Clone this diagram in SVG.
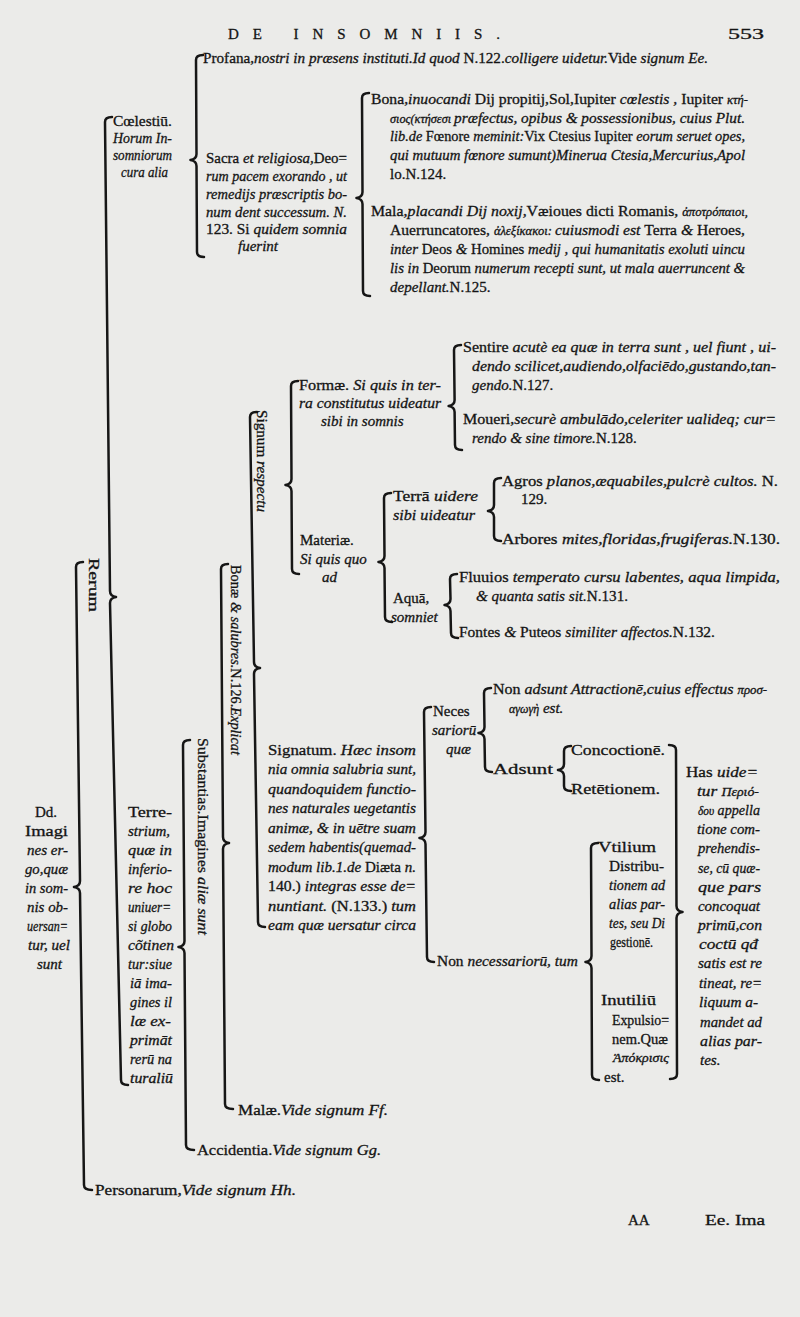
<svg xmlns="http://www.w3.org/2000/svg" width="800" height="1317" viewBox="0 0 800 1317">
<style>
.t{font-family:"Liberation Serif","DejaVu Serif",serif;font-size:15px;fill:#141414;stroke:#141414;stroke-width:0.3px}
.i{font-style:italic}
.g{font-style:italic;font-size:12px}
.b{fill:none;stroke:#161616;stroke-width:2.5;stroke-linecap:round;stroke-linejoin:round}
</style>
<rect width="800" height="1317" fill="#ebebe9"/>

<g id="connectors">
<path class="b" d="M203 55 Q196 55 196 60 L196.5 154 Q196.5 159 190.5 160 Q196.5 161 196.5 166 L197 252 Q197 257 204 257"/>
<path class="b" d="M369 93 Q362 93 362 98 L362.5 192 Q362.5 197 356.5 198 Q362.5 199 362.5 204 L363 291 Q363 296 370 296"/>
<path class="b" d="M112 117 Q105 117 105 122 L110 591 Q110 596 116 597 Q110 598 110 603 L121 1080 Q121 1085 128 1085"/>
<path class="b" d="M83 562 Q76 562 76 567 L80 881 Q80 886 74 887 Q80 888 80 893 L84 1185 Q84 1190 92 1190"/>
<path class="b" d="M190 740 Q183 740 183 745 L184.5 941 Q184.5 946 178.5 947 Q184.5 948 184.5 953 L186 1145 Q186 1150 194 1150"/>
<path class="b" d="M228 564 Q221 564 221 569 L223 837 Q223 842 229 843 Q223 844 223 849 L225 1104 Q225 1109 233 1109"/>
<path class="b" d="M257 412 Q250 412 250 417 L254 662 Q254 667 260 668 Q254 669 254 674 L258 922 Q258 927 265 927"/>
<path class="b" d="M298 381 Q291 381 291 386 L291.5 479 Q291.5 484 285.5 485 Q291.5 486 291.5 491 L292 569 Q292 574 299 574"/>
<path class="b" d="M461 345 Q454 345 454 350 L454.6 400 Q454.6 405 448.6 406 Q454.6 407 454.6 412 L455 445 Q455 450 462 450"/>
<path class="b" d="M391 493 Q384 493 384 498 L384.5 556 Q384.5 561 378.5 562 Q384.5 563 384.5 568 L385 617 Q385 622 392 622"/>
<path class="b" d="M501 478 Q494 478 494 483 L494 505 Q494 510 488 511 Q494 512 494 517 L494 536 Q494 541 501 541"/>
<path class="b" d="M457 574 Q450 574 450 579 L450.5 599 Q450.5 604 444.5 605 Q450.5 606 450.5 611 L451 633 Q451 638 458 638"/>
<path class="b" d="M431 707 Q424 707 424 712 L425.5 832 Q425.5 837 419.5 838 Q425.5 839 425.5 844 L427 957 Q427 962 434 962"/>
<path class="b" d="M491 688 Q484 688 484 693 L484.5 727 Q484.5 732 478.5 733 Q484.5 734 484.5 739 L485 767 Q485 772 492 772"/>
<path class="b" d="M571 746 Q564 746 564 751 L564 764 Q564 769 558 770 Q564 771 564 776 L564 786 Q564 791 571 791"/>
<path class="b" d="M598 843 Q591 843 591 848 L591.5 956 Q591.5 961 585.5 962 Q591.5 963 591.5 968 L592 1075 Q592 1080 599 1080"/>
<path class="b" d="M669 745 Q676 745 676 750 L676.5 906 Q676.5 911 682.5 912 Q676.5 913 676.5 918 L677 1074 Q677 1079 670 1079"/>
</g>

<g id="n-header">
<text class="t" x="228" y="39" font-size="19" textLength="272" lengthAdjust="spacing">DE INSOMNIIS.</text>
<text class="t" x="728" y="39" font-size="17" textLength="36" lengthAdjust="spacingAndGlyphs">553</text>
</g>

<g id="n-profana">
<text class="t" x="203" y="63" textLength="505" lengthAdjust="spacingAndGlyphs">Profana,<tspan class="i">nostri in præsens instituti.Id quod </tspan>N.122.<tspan class="i">colligere uidetur.</tspan>Vide <tspan class="i">signum Ee.</tspan></text>
</g>

<g id="n-coelestium">
<text class="t" x="113" y="126" textLength="59" lengthAdjust="spacingAndGlyphs">Cœlestiū.</text>
<text class="t i" x="113" y="143" font-size="14" textLength="59" lengthAdjust="spacingAndGlyphs">Horum In-</text>
<text class="t i" x="113" y="160" font-size="14" textLength="59" lengthAdjust="spacingAndGlyphs">somniorum</text>
<text class="t i" x="121" y="177" font-size="14" textLength="47" lengthAdjust="spacingAndGlyphs">cura alia</text>
</g>

<g id="n-sacra">
<text class="t" x="206" y="163" font-size="14" textLength="141" lengthAdjust="spacingAndGlyphs">Sacra<tspan class="i"> et religiosa,</tspan>Deo=</text>
<text class="t i" x="206" y="181" font-size="14" textLength="141" lengthAdjust="spacingAndGlyphs">rum pacem exorando , ut</text>
<text class="t i" x="206" y="199" font-size="14" textLength="141" lengthAdjust="spacingAndGlyphs">remedijs præscriptis bo-</text>
<text class="t i" x="206" y="217" font-size="14" textLength="141" lengthAdjust="spacingAndGlyphs">num dent successum. N.</text>
<text class="t" x="206" y="234" font-size="14" textLength="141" lengthAdjust="spacingAndGlyphs">123. Si <tspan class="i">quidem somnia</tspan></text>
<text class="t i" x="238" y="251" font-size="14">fuerint</text>
</g>

<g id="n-bona">
<text class="t" x="371" y="104" textLength="377" lengthAdjust="spacingAndGlyphs">Bona,<tspan class="i">inuocandi </tspan>Dij propitij,Sol,Iupiter <tspan class="i">cœlestis , </tspan>Iupiter <tspan class="g">κτή-</tspan></text>
<text class="t i" x="390" y="123" font-size="14.5" textLength="355" lengthAdjust="spacingAndGlyphs"><tspan class="g">σιος(κτήσεσι </tspan>præfectus, opibus &amp; possessionibus, cuius Plut.</text>
<text class="t i" x="390" y="141" font-size="14.5" textLength="355" lengthAdjust="spacingAndGlyphs">lib.de <tspan font-style="normal">Fœnore </tspan>meminit:<tspan font-style="normal">Vix Ctesius Iupiter </tspan>eorum seruet opes,</text>
<text class="t i" x="390" y="160" font-size="14.5" textLength="355" lengthAdjust="spacingAndGlyphs">qui mutuum fœnore sumunt)Minerua Ctesia,Mercurius,Apol</text>
<text class="t" x="390" y="179">lo.N.124.</text>
</g>

<g id="n-mala">
<text class="t" x="371" y="216" textLength="377" lengthAdjust="spacingAndGlyphs">Mala,<tspan class="i">placandi Dij noxij,</tspan>Væioues dicti Romanis, <tspan class="g">ἀποτρόπαιοι,</tspan></text>
<text class="t" x="390" y="235" font-size="14.5" textLength="355" lengthAdjust="spacingAndGlyphs">Auerruncatores, <tspan class="g">ἀλεξίκακοι: </tspan><tspan class="i">cuiusmodi est </tspan>Terra <tspan class="i">&amp; </tspan>Heroes,</text>
<text class="t i" x="390" y="254" font-size="14.5" textLength="355" lengthAdjust="spacingAndGlyphs">inter <tspan font-style="normal">Deos </tspan>&amp; <tspan font-style="normal">Homines </tspan>medij , qui humanitatis exoluti uincu</text>
<text class="t i" x="390" y="273" font-size="14.5" textLength="355" lengthAdjust="spacingAndGlyphs">lis in <tspan font-style="normal">Deorum </tspan>numerum recepti sunt, ut mala auerruncent &amp;</text>
<text class="t" x="390" y="292"><tspan class="i">depellant.</tspan>N.125.</text>
</g>

<g id="n-imagines">
<text class="t" x="35" y="817">Dd.</text>
<text class="t" x="25" y="836" textLength="43" lengthAdjust="spacingAndGlyphs">Imagi</text>
<text class="t i" x="27" y="855" textLength="41" lengthAdjust="spacingAndGlyphs">nes er-</text>
<text class="t i" x="25" y="874" textLength="43" lengthAdjust="spacingAndGlyphs">go,quæ</text>
<text class="t i" x="25" y="893" textLength="43" lengthAdjust="spacingAndGlyphs">in som-</text>
<text class="t i" x="27" y="912" textLength="41" lengthAdjust="spacingAndGlyphs">nis ob-</text>
<text class="t i" x="27" y="931" textLength="41" lengthAdjust="spacingAndGlyphs">uersan=</text>
<text class="t i" x="28" y="950" textLength="42" lengthAdjust="spacingAndGlyphs">tur, uel</text>
<text class="t i" x="37" y="969">sunt</text>
</g>

<g id="n-rerum">
<text class="t" transform="translate(89,558) rotate(90)" font-size="15.5" textLength="54" lengthAdjust="spacingAndGlyphs">Rerum</text>
</g>

<g id="n-terrestrium">
<text class="t" x="128" y="817" textLength="44" lengthAdjust="spacingAndGlyphs">Terre-</text>
<text class="t i" x="128" y="836" textLength="42" lengthAdjust="spacingAndGlyphs">strium,</text>
<text class="t i" x="128" y="855" textLength="44" lengthAdjust="spacingAndGlyphs">quæ in</text>
<text class="t i" x="128" y="874" textLength="44" lengthAdjust="spacingAndGlyphs">inferio-</text>
<text class="t i" x="128" y="893" textLength="44" lengthAdjust="spacingAndGlyphs">re hoc</text>
<text class="t i" x="128" y="912" textLength="43" lengthAdjust="spacingAndGlyphs">uniuer=</text>
<text class="t i" x="128" y="931" textLength="44" lengthAdjust="spacingAndGlyphs">si globo</text>
<text class="t i" x="128" y="950" textLength="46" lengthAdjust="spacingAndGlyphs">cõtinen</text>
<text class="t i" x="128" y="969" textLength="44" lengthAdjust="spacingAndGlyphs">tur:siue</text>
<text class="t i" x="130" y="988" textLength="42" lengthAdjust="spacingAndGlyphs">iā ima-</text>
<text class="t i" x="130" y="1007" textLength="42" lengthAdjust="spacingAndGlyphs">gines il</text>
<text class="t i" x="130" y="1026" textLength="41" lengthAdjust="spacingAndGlyphs">læ ex-</text>
<text class="t i" x="130" y="1045" textLength="42" lengthAdjust="spacingAndGlyphs">primāt</text>
<text class="t i" x="130" y="1064" textLength="42" lengthAdjust="spacingAndGlyphs">rerū na</text>
<text class="t i" x="130" y="1083" textLength="43" lengthAdjust="spacingAndGlyphs">turaliū</text>
</g>

<g id="n-substantias">
<text class="t" transform="translate(198,738) rotate(90)" textLength="197" lengthAdjust="spacingAndGlyphs">Substantias.Imagines <tspan class="i">aliæ sunt</tspan></text>
</g>

<g id="n-bonae">
<text class="t" transform="translate(231,565) rotate(90)" textLength="190" lengthAdjust="spacingAndGlyphs">Bonæ <tspan class="i">&amp; salubres.</tspan>N.126.<tspan class="i">Explicat</tspan></text>
</g>

<g id="n-signum">
<text class="t" transform="translate(257,410) rotate(90)" textLength="102" lengthAdjust="spacingAndGlyphs">Signum <tspan class="i">respectu</tspan></text>
</g>

<g id="n-formae">
<text class="t" x="299" y="390" textLength="142" lengthAdjust="spacingAndGlyphs">Formæ. <tspan class="i">Si quis in ter-</tspan></text>
<text class="t i" x="299" y="408" textLength="142" lengthAdjust="spacingAndGlyphs">ra constitutus uideatur</text>
<text class="t i" x="321" y="426">sibi in somnis</text>
</g>

<g id="n-sentire">
<text class="t" x="463" y="352" textLength="313" lengthAdjust="spacingAndGlyphs">Sentire <tspan class="i">acutè ea quæ in terra sunt , uel fiunt , ui-</tspan></text>
<text class="t i" x="472" y="371" textLength="304" lengthAdjust="spacingAndGlyphs">dendo scilicet,audiendo,olfaciēdo,gustando,tan-</text>
<text class="t" x="472" y="390"><tspan class="i">gendo.</tspan>N.127.</text>
</g>

<g id="n-moueri">
<text class="t" x="463" y="424" textLength="313" lengthAdjust="spacingAndGlyphs">Moueri,<tspan class="i">securè ambulādo,celeriter ualideq; cur=</tspan></text>
<text class="t" x="472" y="443"><tspan class="i">rendo &amp; sine timore.</tspan>N.128.</text>
</g>

<g id="n-materiae">
<text class="t" x="300" y="545">Materiæ.</text>
<text class="t i" x="300" y="564">Si quis quo</text>
<text class="t i" x="322" y="582">ad</text>
</g>

<g id="n-terra">
<text class="t" x="393" y="501" textLength="85" lengthAdjust="spacingAndGlyphs">Terrā <tspan class="i">uidere</tspan></text>
<text class="t i" x="393" y="520" textLength="82" lengthAdjust="spacingAndGlyphs">sibi uideatur</text>
</g>

<g id="n-agros">
<text class="t" x="502" y="486" textLength="276" lengthAdjust="spacingAndGlyphs">Agros <tspan class="i">planos,æquabiles,pulcrè cultos. </tspan>N.</text>
<text class="t" x="521" y="504">129.</text>
</g>

<g id="n-arbores">
<text class="t" x="502" y="544" textLength="278" lengthAdjust="spacingAndGlyphs">Arbores <tspan class="i">mites,floridas,frugiferas.</tspan>N.130.</text>
</g>

<g id="n-aqua">
<text class="t" x="393" y="603">Aquā,</text>
<text class="t i" x="391" y="622">somniet</text>
</g>

<g id="n-fluuios">
<text class="t" x="459" y="582" textLength="321" lengthAdjust="spacingAndGlyphs">Fluuios <tspan class="i">temperato cursu labentes, aqua limpida,</tspan></text>
<text class="t" x="476" y="601" textLength="152" lengthAdjust="spacingAndGlyphs"><tspan class="i">&amp; quanta satis sit.</tspan>N.131.</text>
</g>

<g id="n-fontes">
<text class="t" x="459" y="637" textLength="256" lengthAdjust="spacingAndGlyphs">Fontes <tspan class="i">&amp; </tspan>Puteos <tspan class="i">similiter affectos.</tspan>N.132.</text>
</g>

<g id="n-signatum">
<text class="t" x="268" y="755" textLength="148" lengthAdjust="spacingAndGlyphs">Signatum. <tspan class="i">Hæc insom</tspan></text>
<text class="t i" x="268" y="774" textLength="148" lengthAdjust="spacingAndGlyphs">nia omnia salubria sunt,</text>
<text class="t i" x="268" y="794" textLength="148" lengthAdjust="spacingAndGlyphs">quandoquidem functio-</text>
<text class="t i" x="268" y="813" textLength="148" lengthAdjust="spacingAndGlyphs">nes naturales uegetantis</text>
<text class="t i" x="268" y="833" textLength="148" lengthAdjust="spacingAndGlyphs">animæ, &amp; in uētre suam</text>
<text class="t i" x="268" y="852" textLength="148" lengthAdjust="spacingAndGlyphs">sedem habentis(quemad-</text>
<text class="t i" x="268" y="872" textLength="148" lengthAdjust="spacingAndGlyphs">modum lib.1.de <tspan font-style="normal">Diæta</tspan> n.</text>
<text class="t" x="268" y="891" textLength="148" lengthAdjust="spacingAndGlyphs">140.) <tspan class="i">integras esse de=</tspan></text>
<text class="t i" x="268" y="911" textLength="148" lengthAdjust="spacingAndGlyphs">nuntiant. <tspan font-style="normal">(N.133.)</tspan> tum</text>
<text class="t i" x="268" y="930" textLength="148" lengthAdjust="spacingAndGlyphs">eam quæ uersatur circa</text>
</g>

<g id="n-necessariorum">
<text class="t" x="433" y="716">Neces</text>
<text class="t i" x="432" y="735">sariorū</text>
<text class="t i" x="446" y="754">quæ</text>
</g>

<g id="n-nonadsunt">
<text class="t" x="493" y="694" textLength="274" lengthAdjust="spacingAndGlyphs">Non <tspan class="i">adsunt Attractionē,cuius effectus </tspan><tspan class="g">προσ-</tspan></text>
<text class="t i" x="509" y="713"><tspan class="g">αγωγὴ</tspan> est.</text>
</g>

<g id="n-adsunt">
<text class="t" x="493" y="774" textLength="60" lengthAdjust="spacingAndGlyphs">Adsunt</text>
</g>

<g id="n-concoctione">
<text class="t" x="571" y="755" textLength="94" lengthAdjust="spacingAndGlyphs">Concoctionē.</text>
</g>

<g id="n-retentionem">
<text class="t" x="571" y="794" textLength="89" lengthAdjust="spacingAndGlyphs">Retētionem.</text>
</g>

<g id="n-has">
<text class="t" x="686" y="777" textLength="72" lengthAdjust="spacingAndGlyphs">Has <tspan class="i">uide=</tspan></text>
<text class="t i" x="697" y="796" textLength="62" lengthAdjust="spacingAndGlyphs">tur <tspan class="g">Περιό-</tspan></text>
<text class="t i" x="698" y="815" textLength="62" lengthAdjust="spacingAndGlyphs"><tspan class="g">δου</tspan> appella</text>
<text class="t i" x="697" y="834" textLength="63" lengthAdjust="spacingAndGlyphs">tione com-</text>
<text class="t i" x="698" y="853" textLength="62" lengthAdjust="spacingAndGlyphs">prehendis-</text>
<text class="t i" x="698" y="873" textLength="62" lengthAdjust="spacingAndGlyphs">se, cū quæ-</text>
<text class="t i" x="698" y="892" textLength="63" lengthAdjust="spacingAndGlyphs">que pars</text>
<text class="t i" x="698" y="911" textLength="62" lengthAdjust="spacingAndGlyphs">concoquat</text>
<text class="t i" x="698" y="930" textLength="64" lengthAdjust="spacingAndGlyphs">primū,con</text>
<text class="t i" x="699" y="949" textLength="59" lengthAdjust="spacingAndGlyphs">coctū qđ</text>
<text class="t i" x="698" y="968" textLength="64" lengthAdjust="spacingAndGlyphs">satis est re</text>
<text class="t i" x="699" y="988" textLength="63" lengthAdjust="spacingAndGlyphs">tineat, re=</text>
<text class="t i" x="699" y="1007" textLength="59" lengthAdjust="spacingAndGlyphs">liquum a-</text>
<text class="t i" x="700" y="1027" textLength="62" lengthAdjust="spacingAndGlyphs">mandet ad</text>
<text class="t i" x="700" y="1046" textLength="62" lengthAdjust="spacingAndGlyphs">alias par-</text>
<text class="t i" x="700" y="1065">tes.</text>
</g>

<g id="n-nonnecessariorum">
<text class="t" x="437" y="966" textLength="141" lengthAdjust="spacingAndGlyphs">Non <tspan class="i">necessariorū, tum</tspan></text>
</g>

<g id="n-vtilium">
<text class="t" x="598" y="852" textLength="58" lengthAdjust="spacingAndGlyphs">Vtilium</text>
<text class="t" x="609" y="871" font-size="13.5" textLength="55" lengthAdjust="spacingAndGlyphs">Distribu-</text>
<text class="t i" x="609" y="890" font-size="13.5" textLength="56" lengthAdjust="spacingAndGlyphs">tionem ad</text>
<text class="t i" x="609" y="909" font-size="13.5" textLength="56" lengthAdjust="spacingAndGlyphs">alias par-</text>
<text class="t i" x="609" y="928" font-size="13.5" textLength="56" lengthAdjust="spacingAndGlyphs">tes, seu Di</text>
<text class="t" x="610" y="947" font-size="13.5" textLength="43" lengthAdjust="spacingAndGlyphs">gestionē.</text>
</g>

<g id="n-inutiliu">
<text class="t" x="601" y="1005" textLength="55" lengthAdjust="spacingAndGlyphs">Inutiliū</text>
<text class="t" x="612" y="1025" font-size="14" textLength="57" lengthAdjust="spacingAndGlyphs">Expulsio=</text>
<text class="t" x="612" y="1044" font-size="14" textLength="56" lengthAdjust="spacingAndGlyphs">nem.Quæ</text>
<text class="t g" x="613" y="1062" textLength="56" lengthAdjust="spacingAndGlyphs">Ἀπόκρισις</text>
<text class="t" x="604" y="1082">est.</text>
</g>

<g id="n-malae">
<text class="t" x="238" y="1115" textLength="150" lengthAdjust="spacingAndGlyphs">Malæ.<tspan class="i">Vide signum Ff.</tspan></text>
</g>

<g id="n-accidentia">
<text class="t" x="197" y="1155" textLength="184" lengthAdjust="spacingAndGlyphs">Accidentia.<tspan class="i">Vide signum Gg.</tspan></text>
</g>

<g id="n-personarum">
<text class="t" x="95" y="1195" textLength="201" lengthAdjust="spacingAndGlyphs">Personarum,<tspan class="i">Vide signum Hh.</tspan></text>
</g>

<g id="n-footer">
<text class="t" x="628" y="1225">AA</text>
<text class="t" x="705" y="1225" textLength="60" lengthAdjust="spacingAndGlyphs">Ee. Ima</text>
</g>
</svg>
